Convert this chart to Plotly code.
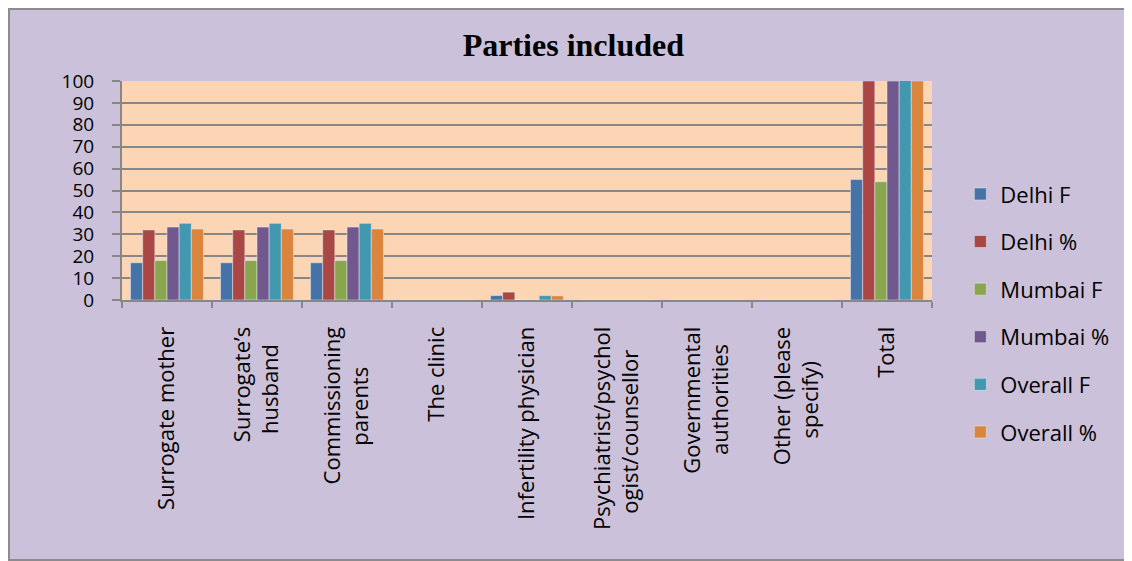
import plotly.graph_objects as go

NB = "\u00a0"

categories = [
    "Surrogate mother",
    "Surrogate’s<br>husband" + NB * 3,
    "Commissioning<br>parents" + NB * 7,
    "The clinic",
    "Infertility physician",
    "Psychiatrist/psychol<br>ogist/counsellor" + NB * 4,
    "Governmental<br>authorities" + NB * 3,
    "Other (please<br>specify)" + NB * 6,
    "Total",
]

delhi_f = [17, 17, 17, 0, 2, 0, 0, 0, 55]
delhi_pct = [32, 32, 32, 0, 3.6, 0, 0, 0, 100]
mumbai_f = [18, 18, 18, 0, 0, 0, 0, 0, 54]
mumbai_pct = [33.3, 33.3, 33.3, 0, 0, 0, 0, 0, 100]
overall_f = [35, 35, 35, 0, 2, 0, 0, 0, 109]
overall_pct = [32.4, 32.4, 32.4, 0, 1.9, 0, 0, 0, 100]

series = [
    ("Delhi F", delhi_f, "#4572A7"),
    ("Delhi %", delhi_pct, "#AA4643"),
    ("Mumbai F", mumbai_f, "#89A54E"),
    ("Mumbai %", mumbai_pct, "#71588F"),
    ("Overall F", overall_f, "#4198AF"),
    ("Overall %", overall_pct, "#DB843D"),
]

fig = go.Figure()
for name, vals, color in series:
    fig.add_trace(
        go.Bar(
            x=categories,
            y=vals,
            name=name,
            marker_color=color,
            legendgroup=name,
        )
    )

grid = "#878787"
# page body has an 8px margin, so the figure is a bit smaller than the window
W, H = 1124, 553
L, R, T, B = 114, 200, 73, 261
pw, ph = W - L - R, H - T - B

fig.update_layout(
    width=W,
    height=H,
    barmode="group",
    bargap=0.19,
    bargroupgap=0,
    paper_bgcolor="#CCC1DA",
    plot_bgcolor="#FCD5B5",
    font=dict(family="Open Sans", size=22, color="#000000"),
    title=dict(
        text="<b>Parties included</b>",
        font=dict(family="Liberation Serif", size=32, color="#000000"),
        x=0.503,
        xanchor="center",
        y=(H - 37) / H,
        yanchor="middle",
    ),
    margin=dict(l=L, r=R, t=T, b=B),
    legend=dict(
        x=1.035,
        xanchor="left",
        y=-0.06,
        yanchor="middle",
        bgcolor="rgba(0,0,0,0)",
        tracegroupgap=16,
        maxheight=520,
        font=dict(size=22),
    ),
    xaxis=dict(
        tickangle=-90,
        tickson="boundaries",
        ticks="outside",
        ticklen=6,
        tickcolor=grid,
        tickwidth=2,
        showline=True,
        linecolor=grid,
        linewidth=2,
        ticklabelstandoff=16,
        tickfont=dict(size=22),
    ),
    yaxis=dict(
        range=[0, 100],
        dtick=10,
        ticks="outside",
        ticklen=8,
        tickcolor=grid,
        tickwidth=2,
        showline=True,
        linecolor=grid,
        linewidth=2,
        gridcolor=grid,
        gridwidth=2,
        zeroline=False,
        ticklabelstandoff=14,
        tickfont=dict(size=19),
    ),
    shapes=[
        dict(type="rect", xref="paper", yref="paper",
             x0=-(L - 1) / pw, x1=(W - L + 20) / pw,
             y0=-(B - 1) / ph, y1=1 + (T - 1) / ph,
             fillcolor="rgba(0,0,0,0)", line=dict(color="#8C8C8C", width=2),
             layer="above"),
    ],
)

fig.write_html("out.html")
